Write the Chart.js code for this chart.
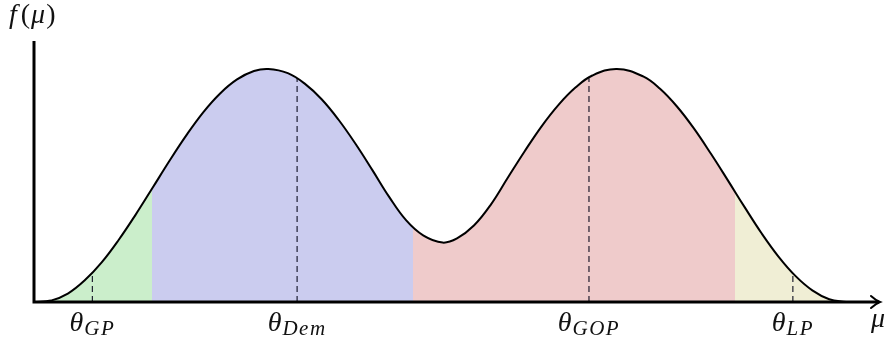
<!DOCTYPE html>
<html>
<head>
<meta charset="utf-8">
<script src="https://cdn.jsdelivr.net/npm/chart.js@4.4.1/dist/chart.umd.min.js"></script>
<style>
  body { margin: 0; background: #fff; }
  #wrap { width: 885px; height: 342px; position: relative; }
</style>
</head>
<body>
<div id="wrap"><canvas id="density"></canvas></div>
<script>
// mu positions and the density value at each one
const mu = [0, 0.2, 0.4, 0.6, 0.8, 1.0, 1.2, 1.4, 1.6, 1.8, 2.0, 2.2, 2.4, 2.6, 2.77, 3.0,
            3.2, 3.4, 3.6, 3.8, 4.0, 4.2, 4.4, 4.6, 4.83, 5.0, 5.2, 5.4, 5.6, 5.8, 6.0, 6.2,
            6.4, 6.6, 6.89, 7.2, 7.4, 7.6, 7.8, 8.0, 8.2, 8.4, 8.6, 8.8, 9.0, 9.2, 9.4, 9.6];
const density = [0, 0.006, 0.036, 0.093, 0.170, 0.266, 0.374, 0.489, 0.605, 0.715, 0.814, 0.895,
                 0.955, 0.991, 1.000, 0.982, 0.937, 0.870, 0.782, 0.679, 0.566, 0.450, 0.350, 0.286,
                 0.255, 0.273, 0.328, 0.418, 0.533, 0.647, 0.754, 0.846, 0.920, 0.972, 1.000,
                 0.968, 0.915, 0.839, 0.745, 0.637, 0.523, 0.407, 0.295, 0.195, 0.112, 0.050, 0.012, 0];

// party regions along mu (edges between the shaded bands)
const regionEdges = [0, 1.4, 4.48, 8.29, 9.6];

// party ideal points and the density height where each dashed marker stops
const thetaNames = ['GP', 'Dem', 'GOP', 'LP'];
const thetaMu = [0.69, 3.11, 6.56, 8.97];
const thetaDensity = [0.125, 0.96, 0.96, 0.125];

const regionColors = ['#cbeecb', '#cbccef', '#efcbcb', '#f0eed5'];
const serif = '"Liberation Serif"';

// hard-stop gradient so each band gets its own colour under the curve
function bandFill(context) {
    const chart = context.chart;
    const x = chart.scales.x;
    if (!chart.chartArea || !x) return regionColors[0];
    const x0 = x.getPixelForValue(0);
    const x1 = x.getPixelForValue(10);
    const g = chart.ctx.createLinearGradient(x0, 0, x1, 0);
    for (let i = 0; i < regionColors.length; i++) {
        g.addColorStop(regionEdges[i] / 10, regionColors[i]);
        g.addColorStop(regionEdges[i + 1] / 10, regionColors[i]);
    }
    return g;
}

// axes with the arrow on mu, plus the math labels
const axesAndLabels = {
    id: 'axesAndLabels',
    afterDatasetsDraw(chart) {
        const ctx = chart.ctx;
        const x = chart.scales.x;
        const y = chart.scales.y;
        const ox = x.getPixelForValue(0);
        const oy = y.getPixelForValue(0);
        const right = chart.chartArea.right;
        ctx.save();
        ctx.strokeStyle = '#000';
        ctx.lineWidth = 3;
        ctx.beginPath();
        ctx.moveTo(ox, chart.chartArea.top);
        ctx.lineTo(ox, oy);
        ctx.lineTo(right - 1, oy);
        ctx.stroke();
        // arrow head
        ctx.lineWidth = 2;
        ctx.lineCap = 'round';
        ctx.beginPath();
        ctx.moveTo(right - 9, oy - 6);
        ctx.quadraticCurveTo(right - 4, oy - 1.5, right, oy);
        ctx.quadraticCurveTo(right - 4, oy + 1.5, right - 9, oy + 6);
        ctx.stroke();
        ctx.restore();
    },
    afterDraw(chart) {
        const ctx = chart.ctx;
        const x = chart.scales.x;
        ctx.save();
        ctx.fillStyle = '#111';
        ctx.textBaseline = 'alphabetic';
        ctx.textAlign = 'left';
        const big = 'italic 28px ' + serif;
        const small = 'italic 21px ' + serif;
        thetaNames.forEach(function(name, i) {
            ctx.font = big;
            const wTheta = ctx.measureText('θ').width;
            ctx.font = small;
            const wSub = ctx.measureText(name).width + name.length * 1.5;
            const cx = x.getPixelForValue(thetaMu[i]);
            const left = cx - (wTheta + wSub + 1) / 2;
            ctx.font = big;
            ctx.fillText('θ', left, 331);
            ctx.font = small;
            let sx = left + wTheta + 1;
            name.split('').forEach(function(ch) {
                ctx.fillText(ch, sx, 335);
                sx += ctx.measureText(ch).width + 1.5;
            });
        });
        // mu at the end of the horizontal axis
        ctx.font = big;
        ctx.fillText('μ', 871, 327);
        // f(mu) above the vertical axis
        let px = 9;
        const parts = [['f', true], ['(', false], ['μ', true], [')', false]];
        parts.forEach(function(p) {
            ctx.font = (p[1] ? 'italic ' : '') + '28px ' + serif;
            ctx.fillText(p[0], px, 23);
            px += ctx.measureText(p[0]).width + (p[0] === 'f' ? 4 : 1);
        });
        ctx.restore();
    }
};

function drawChart() {
    const curve = mu.map(function(m, i) { return { x: m, y: density[i] }; });

    const markers = thetaMu.map(function(t, i) {
        return {
            data: [{ x: t, y: 0 }, { x: t, y: thetaDensity[i] }],
            borderColor: 'rgba(10, 10, 30, 0.9)',
            borderWidth: 1.2,
            borderDash: [6, 4],
            pointRadius: 0,
            fill: false
        };
    });

    new Chart(document.getElementById('density'), {
        type: 'line',
        data: {
            datasets: [{
                data: curve,
                borderColor: '#000',
                borderWidth: 2,
                backgroundColor: bandFill,
                fill: 'origin',
                pointRadius: 0,
                tension: 0.4
            }].concat(markers)
        },
        options: {
            responsive: true,
            maintainAspectRatio: false,
            animation: false,
            layout: { padding: { left: 34, right: 5, top: 41, bottom: 40 } },
            scales: {
                x: { type: 'linear', min: 0, max: 10, display: false },
                y: { min: 0, max: 1.12, display: false }
            },
            plugins: {
                legend: { display: false },
                tooltip: { enabled: false },
                filler: { drawTime: 'beforeDatasetsDraw' }
            }
        },
        plugins: [axesAndLabels]
    });
}

// make sure the serif faces are ready before the canvas text is drawn
document.addEventListener('DOMContentLoaded', function() {
    Promise.all([
        document.fonts.load('italic 28px ' + serif, 'θμGP'),
        document.fonts.load('28px ' + serif, '()')
    ]).then(drawChart, drawChart);
});
</script>
</body>
</html>
